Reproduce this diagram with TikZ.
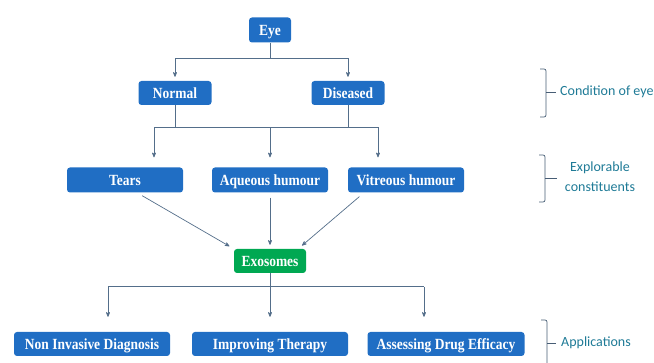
\documentclass[tikz,border=0pt]{standalone}
\usepackage{fontspec}
\newfontfamily\boxfont[FakeStretch=0.87]{Liberation Serif}
\newfontfamily\labelfont{Carlito}
\usetikzlibrary{arrows, positioning}
\definecolor{boxblue}{RGB}{32,110,196}
\definecolor{boxgreen}{RGB}{0,168,82}
\definecolor{linkgray}{RGB}{84,110,138}
\definecolor{labelteal}{RGB}{30,122,150}
\tikzset{
>=stealth', % small bold arrow heads
node distance=1cm,
box/.style={fill=boxblue, rounded corners=3pt, text=white, inner sep=0pt,
  minimum height=24pt, text height=10.3pt, text depth=0pt,
  font=\boxfont\bfseries\fontsize{15.5}{17}\selectfont},
greenbox/.style={box, fill=boxgreen, text=white},
link/.style={draw=linkgray, line width=0.7pt},
arr/.style={link, ->},
bracket/.style={draw=linkgray!85!black, line width=0.7pt, rounded corners=2pt},
note/.style={text=labelteal, font=\labelfont\fontsize{14}{20}\selectfont, inner sep=0pt},
}
\begin{document}
\begin{tikzpicture}[on grid]
  \useasboundingbox (0,0) rectangle (654pt,-363pt);
  % tree of boxes
  \node[box, minimum width=42pt, minimum height=25pt] (eye) at (270pt,-30pt) {Eye};
  \node[box, minimum width=73pt, below left=63pt and 95pt of eye] (normal) {Normal};
  \node[box, minimum width=73pt, below right=63pt and 78pt of eye] (diseased) {Diseased};
  \node[box, minimum width=116pt, minimum height=25pt, below=150pt of eye] (aqueous) {Aqueous humour};
  \node[box, minimum width=116pt, minimum height=25pt, left=145pt of aqueous] (tears) {Tears};
  \node[box, minimum width=116pt, minimum height=25pt, right=136pt of aqueous] (vitreous) {Vitreous humour};
  \node[greenbox, minimum width=72pt, below=81pt of aqueous] (exosomes) {Exosomes};
  \node[box, minimum width=156pt, below=83pt of exosomes] (improving) {Improving Therapy};
  \node[box, minimum width=156pt, left=178pt of improving] (noninv) {Non Invasive Diagnosis};
  \node[box, minimum width=157pt, right=176pt of improving] (assessing) {Assessing Drug Efficacy};

  % joints of the elbow connectors
  \coordinate[below=16pt of eye.south] (eyejoin);
  \coordinate[above right=40pt and 29pt of tears.north] (tearsin);
  \coordinate[above left=40pt and 28pt of vitreous.north] (vitrin);
  \coordinate[below=14pt of exosomes.south] (exojoin);
  \coordinate[above right=45pt and 16pt of noninv.north] (noninvin);
  \coordinate[above left=45pt and 22pt of assessing.north] (assessin);

  \draw[link] (eye) -- (eyejoin);
  \draw[arr, shorten >=4pt] (eyejoin) -| (normal);
  \draw[arr, shorten >=4pt] (eyejoin) -| (diseased);

  \draw[link] (normal) -- (normal |- tearsin);
  \draw[link] (diseased) -- (diseased |- tearsin);
  \draw[link] (tearsin) -- (vitrin);
  \draw[arr, shorten >=10pt] (tearsin) -- (tearsin |- tears.north);
  \draw[arr, shorten >=10pt] (aqueous |- tearsin) -- (aqueous);
  \draw[arr, shorten >=10pt] (vitrin) -- (vitrin |- vitreous.north);

  \draw[arr, shorten <=6pt, shorten >=5pt] ([xshift=12pt]tears.south) -- (exosomes.north west);
  \draw[arr, shorten <=5pt, shorten >=4pt] (aqueous) -- (exosomes);
  \draw[arr, shorten <=6pt, shorten >=5pt] ([xshift=-42pt]vitreous.south) -- ([xshift=-8pt]exosomes.north east);

  \draw[link] (exosomes) -- (exojoin);
  \draw[link] (noninvin) -- (assessin);
  \draw[arr, shorten >=15pt] (noninvin) -- (noninvin |- noninv.north);
  \draw[arr, shorten >=15pt] (exojoin) -- (improving);
  \draw[arr, shorten >=15pt] (assessin) -- (assessin |- assessing.north);

  % brackets on the right
  \draw[bracket] (540pt,-69pt) -- (546pt,-69pt) -- (546pt,-117pt) -- (540pt,-117pt);
  \draw[bracket] (546pt,-92pt) -- (556pt,-92pt);
  \node[note, anchor=west] (condition) at (560pt,-92pt) {Condition of eye};

  \draw[bracket] (539pt,-155pt) -- (545pt,-155pt) -- (545pt,-202pt) -- (539pt,-202pt);
  \draw[bracket] (545pt,-178pt) -- (557pt,-178pt);
  \node[note, align=center] (explorable) at (600pt,-177pt) {Explorable\\constituents};

  \draw[bracket] (541pt,-320pt) -- (547pt,-320pt) -- (547pt,-366pt);
  \draw[bracket] (547pt,-343pt) -- (556pt,-343pt);
  \node[note, anchor=west] (applications) at (561pt,-343pt) {Applications};
\end{tikzpicture}
\end{document}
